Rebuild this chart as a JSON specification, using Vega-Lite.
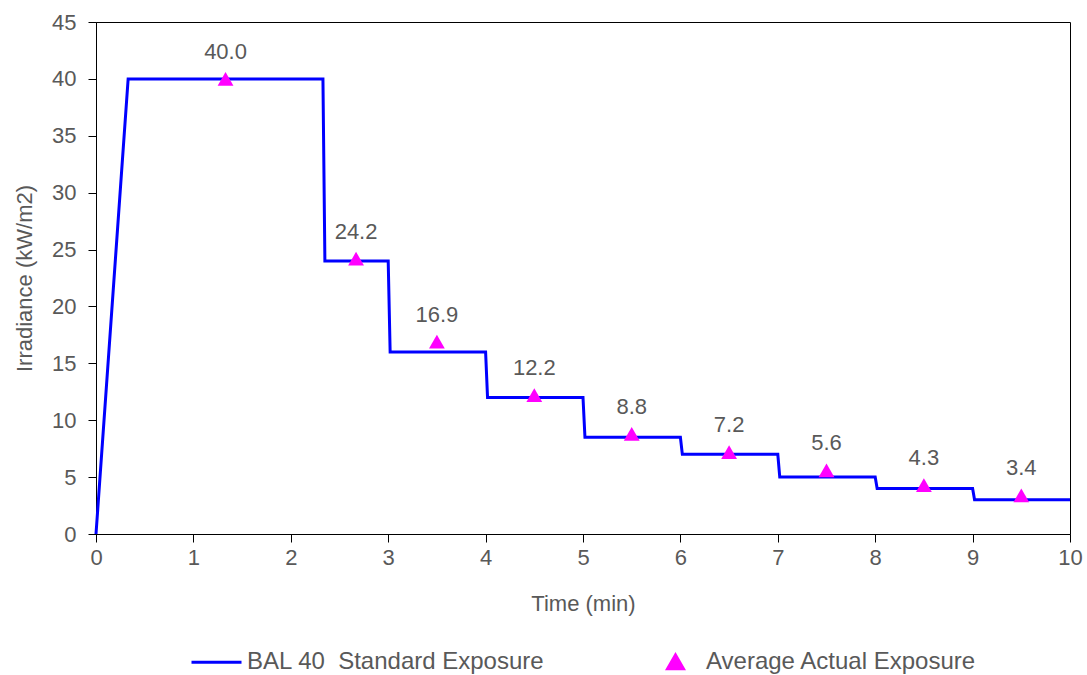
{
  "$schema": "https://vega.github.io/schema/vega-lite/v6.json",
  "width": 974,
  "height": 512,
  "autosize": {"type": "none"},
  "padding": {"left": 96, "top": 22, "right": 17, "bottom": 141},
  "background": "white",
  "config": {
    "font": "Liberation Sans",
    "view": {"stroke": "#000000", "strokeWidth": 1}
  },
  "datasets": {
    "standard": [
      {"time": 0, "irr": 0, "series": "BAL 40\u00a0 Standard Exposure"},
      {"time": 0.33, "irr": 40, "series": "BAL 40\u00a0 Standard Exposure"},
      {"time": 2.33, "irr": 40, "series": "BAL 40\u00a0 Standard Exposure"},
      {"time": 2.35, "irr": 24, "series": "BAL 40\u00a0 Standard Exposure"},
      {"time": 3.0, "irr": 24, "series": "BAL 40\u00a0 Standard Exposure"},
      {"time": 3.02, "irr": 16, "series": "BAL 40\u00a0 Standard Exposure"},
      {"time": 4.0, "irr": 16, "series": "BAL 40\u00a0 Standard Exposure"},
      {"time": 4.02, "irr": 12, "series": "BAL 40\u00a0 Standard Exposure"},
      {"time": 5.0, "irr": 12, "series": "BAL 40\u00a0 Standard Exposure"},
      {"time": 5.02, "irr": 8.5, "series": "BAL 40\u00a0 Standard Exposure"},
      {"time": 6.0, "irr": 8.5, "series": "BAL 40\u00a0 Standard Exposure"},
      {"time": 6.02, "irr": 7, "series": "BAL 40\u00a0 Standard Exposure"},
      {"time": 7.0, "irr": 7, "series": "BAL 40\u00a0 Standard Exposure"},
      {"time": 7.02, "irr": 5, "series": "BAL 40\u00a0 Standard Exposure"},
      {"time": 8.0, "irr": 5, "series": "BAL 40\u00a0 Standard Exposure"},
      {"time": 8.02, "irr": 4, "series": "BAL 40\u00a0 Standard Exposure"},
      {"time": 9.0, "irr": 4, "series": "BAL 40\u00a0 Standard Exposure"},
      {"time": 9.02, "irr": 3, "series": "BAL 40\u00a0 Standard Exposure"},
      {"time": 10.0, "irr": 3, "series": "BAL 40\u00a0 Standard Exposure"}
    ],
    "actual": [
      {"time": 1.33, "irr": 40.0, "label": "40.0", "series": "Average Actual Exposure"},
      {"time": 2.67, "irr": 24.2, "label": "24.2", "series": "Average Actual Exposure"},
      {"time": 3.5, "irr": 16.9, "label": "16.9", "series": "Average Actual Exposure"},
      {"time": 4.5, "irr": 12.2, "label": "12.2", "series": "Average Actual Exposure"},
      {"time": 5.5, "irr": 8.8, "label": "8.8", "series": "Average Actual Exposure"},
      {"time": 6.5, "irr": 7.2, "label": "7.2", "series": "Average Actual Exposure"},
      {"time": 7.5, "irr": 5.6, "label": "5.6", "series": "Average Actual Exposure"},
      {"time": 8.5, "irr": 4.3, "label": "4.3", "series": "Average Actual Exposure"},
      {"time": 9.5, "irr": 3.4, "label": "3.4", "series": "Average Actual Exposure"}
    ]
  },
  "encoding": {
    "x": {
      "field": "time",
      "type": "quantitative",
      "title": "Time (min)",
      "scale": {"domain": [0, 10], "nice": false, "zero": false},
      "axis": {
        "values": [0,1,2,3,4,5,6,7,8,9,10],
        "grid": false,
        "domainColor": "#000000",
        "tickColor": "#000000",
        "tickSize": 8,
        "labelFlush": false,
        "labelColor": "#595959",
        "labelFontSize": 22,
        "labelFont": "Liberation Sans",
        "labelPadding": 5,
        "titleColor": "#595959",
        "titleFontSize": 22,
        "titleFontWeight": "normal",
        "titleFont": "Liberation Sans",
        "titlePadding": 25
      }
    },
    "y": {
      "field": "irr",
      "type": "quantitative",
      "title": "Irradiance (kW/m2)",
      "scale": {"domain": [0, 45], "nice": false},
      "axis": {
        "values": [0,5,10,15,20,25,30,35,40,45],
        "grid": false,
        "domainColor": "#000000",
        "tickColor": "#000000",
        "tickSize": 8,
        "labelFlush": false,
        "labelColor": "#595959",
        "labelFontSize": 22,
        "labelFont": "Liberation Sans",
        "labelPadding": 12,
        "titleColor": "#595959",
        "titleFontSize": 22,
        "titleFontWeight": "normal",
        "titleFont": "Liberation Sans",
        "titlePadding": 15
      }
    }
  },
  "layer": [
    {
      "data": {"name": "standard"},
      "mark": {"type": "line", "strokeWidth": 3, "interpolate": "linear"},
      "encoding": {
        "color": {
          "field": "series",
          "type": "nominal",
          "scale": {"domain": ["BAL 40\u00a0 Standard Exposure", "Average Actual Exposure"], "range": ["#0000ff", "#ff00ff"]},
          "legend": {
            "title": null,
            "orient": "none",
            "legendX": 94,
            "legendY": 613,
            "direction": "horizontal",
            "symbolSize": 2500,
            "symbolStrokeWidth": 3,
            "labelFontSize": 24,
            "labelColor": "#595959",
            "labelFont": "Liberation Sans",
            "labelLimit": 600,
            "labelOffset": 4,
            "columnPadding": 104,
            "encode": {
              "symbols": {
                "update": {
                  "shape": {"signal": "datum.label == 'Average Actual Exposure' ? 'triangle-up' : 'stroke'"},
                  "size": {"signal": "datum.label == 'Average Actual Exposure' ? 250 : 2500"},
                  "fill": {"signal": "datum.label == 'Average Actual Exposure' ? '#ff00ff' : 'transparent'"},
                  "stroke": {"signal": "datum.label == 'Average Actual Exposure' ? 'transparent' : '#0000ff'"},
                  "strokeWidth": {"value": 3}
                }
              }
            }
          }
        }
      }
    },
    {
      "data": {"name": "actual"},
      "mark": {"type": "point", "shape": "triangle-up", "filled": true, "size": 250, "opacity": 1},
      "encoding": {
        "color": {"field": "series", "type": "nominal"}
      }
    },
    {
      "data": {"name": "actual"},
      "mark": {"type": "text", "dy": -27, "fontSize": 22, "color": "#595959", "font": "Liberation Sans", "baseline": "middle"},
      "encoding": {
        "text": {"field": "label", "type": "nominal"}
      }
    }
  ]
}
